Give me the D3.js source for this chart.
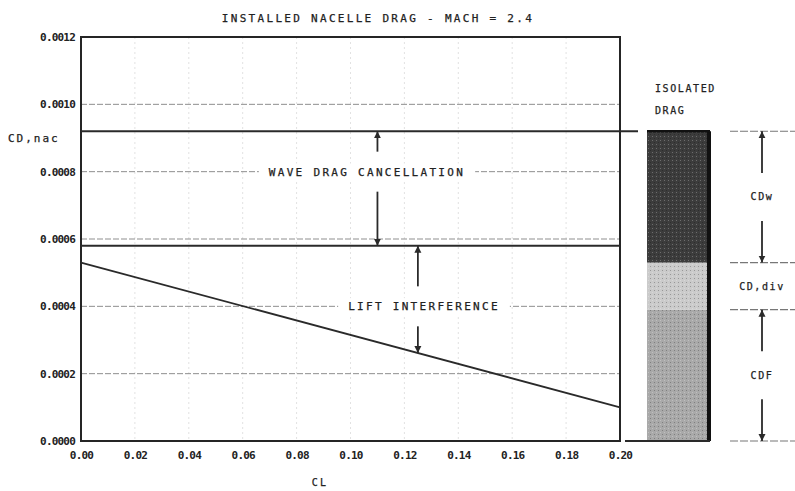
<!DOCTYPE html>
<html>
<head>
<meta charset="utf-8">
<script src="https://cdn.jsdelivr.net/npm/d3@7"></script>
<style>
  body { margin: 0; background: #fff; }
  text { font-family: "DejaVu Sans Mono", monospace; fill: #222; }
  .plot { font-size: 11px; letter-spacing: 2.3px; stroke: #222; stroke-width: 0.25px; }
  .tick { font-size: 11px; font-weight: bold; letter-spacing: -0.8px; }
</style>
</head>
<body>
<svg id="chart" width="795" height="491"></svg>
<script>
var WIDTH = 795;
var HEIGHT = 491;

// data
var clTicks = [0, 0.02, 0.04, 0.06, 0.08, 0.10, 0.12, 0.14, 0.16, 0.18, 0.20];
var clTickLabels = ['0.00', '0.02', '0.04', '0.06', '0.08', '0.10', '0.12', '0.14', '0.16', '0.18', '0.20'];
var cdTicks = [0, 0.0002, 0.0004, 0.0006, 0.0008, 0.0010, 0.0012];
var cdTickLabels = ['0.0000', '0.0002', '0.0004', '0.0006', '0.0008', '0.0010', '0.0012'];

var liftCL = [0, 0.20];
var liftCD = [0.00053, 0.00010];
var isolatedLevel = 0.00092;
var cancelledLevel = 0.00058;

var barNames = ['CDF', 'CD,div', 'CDw'];
var barValues = [0.00039, 0.00014, 0.00039];
var barColors = ['#a9a9a9', '#cbcbcb', '#3c3c3c'];

var waveArrowCL = 0.11;
var liftArrowCL = 0.125;
var waveLabel = 'WAVE DRAG CANCELLATION';
var liftLabel = 'LIFT INTERFERENCE';
var waveLabelCD = 0.0008;
var liftLabelCD = 0.0004;

var svg = d3.select('#chart');

var xScale = d3.scaleLinear().domain([0, 0.20]).range([81, 620]);
var yScale = d3.scaleLinear().domain([0, 0.0012]).range([441, 37]);
var barScale = d3.scaleBand().domain(['ISOLATED DRAG']).range([647, 710]);

// faint vertical grid
svg.append('g').selectAll('line').data(clTicks.slice(1, -1)).enter()
    .append('line')
    .attr('x1', function(d){ return xScale(d); })
    .attr('x2', function(d){ return xScale(d); })
    .attr('y1', yScale(0.0012)).attr('y2', yScale(0))
    .attr('stroke', '#e2e2e2').attr('stroke-dasharray', '2,3');

// dashed horizontal grid
svg.append('g').selectAll('line').data(cdTicks.slice(1, -1)).enter()
    .append('line')
    .attr('x1', xScale(0)).attr('x2', xScale(0.20))
    .attr('y1', function(d){ return yScale(d); })
    .attr('y2', function(d){ return yScale(d); })
    .attr('stroke', '#8f8f8f').attr('stroke-width', 1)
    .attr('stroke-dasharray', '6,2');

// axes
var leftAxis = d3.axisLeft(yScale).tickValues(cdTicks)
    .tickFormat(function(d, i){ return cdTickLabels[i]; }).tickSize(0).tickPadding(6);
var bottomAxis = d3.axisBottom(xScale).tickValues(clTicks)
    .tickFormat(function(d, i){ return clTickLabels[i]; }).tickSize(0).tickPadding(10);

svg.append('g').attr('transform', 'translate(' + xScale(0) + ',0)').call(leftAxis)
    .call(function(g){ g.select('.domain').remove(); })
    .selectAll('text').attr('class', 'tick');
svg.append('g').attr('transform', 'translate(0,' + yScale(0) + ')').call(bottomAxis)
    .call(function(g){ g.select('.domain').remove(); })
    .selectAll('text').attr('class', 'tick');

// frame
svg.append('rect')
    .attr('x', xScale(0)).attr('y', yScale(0.0012))
    .attr('width', xScale(0.20) - xScale(0))
    .attr('height', yScale(0) - yScale(0.0012))
    .attr('fill', 'none').attr('stroke', '#252525').attr('stroke-width', 2);

// labels on gridlines with white backing
function gridLabel(txt, cx, cd) {
    var t = svg.append('text').attr('class', 'plot')
        .attr('x', cx).attr('y', yScale(cd)).attr('dy', '0.35em')
        .attr('text-anchor', 'middle').text(txt);
    var bb = t.node().getBBox();
    svg.insert('rect', function(){ return t.node(); })
        .attr('x', bb.x - 10).attr('y', bb.y - 2)
        .attr('width', bb.width + 20).attr('height', bb.height + 4)
        .attr('fill', '#fff');
}
gridLabel(waveLabel, 367, waveLabelCD);
gridLabel(liftLabel, 424, liftLabelCD);

// level lines
svg.append('line')
    .attr('x1', xScale(0)).attr('x2', 638)
    .attr('y1', yScale(isolatedLevel)).attr('y2', yScale(isolatedLevel))
    .attr('stroke', '#2a2a2a').attr('stroke-width', 1.8);
svg.append('line')
    .attr('x1', xScale(0)).attr('x2', xScale(0.20))
    .attr('y1', yScale(cancelledLevel)).attr('y2', yScale(cancelledLevel))
    .attr('stroke', '#2a2a2a').attr('stroke-width', 1.8);

// lift line
var liftData = liftCL.map(function(c, i){ return [c, liftCD[i]]; });
svg.append('path').datum(liftData)
    .attr('d', d3.line().x(function(d){ return xScale(d[0]); }).y(function(d){ return yScale(d[1]); }))
    .attr('fill', 'none').attr('stroke', '#2a2a2a').attr('stroke-width', 1.8);

// arrows
var defs = svg.append('defs');
defs.append('marker').attr('id', 'head').attr('viewBox', '0 0 10 10')
    .attr('refX', 10).attr('refY', 5).attr('markerWidth', 7).attr('markerHeight', 9)
    .attr('markerUnits', 'userSpaceOnUse').attr('orient', 'auto')
    .append('path').attr('d', 'M0,0 L10,5 L0,10 Z').attr('fill', '#2a2a2a');

function arrow(x, fromY, toY) {
    svg.append('line')
        .attr('x1', x).attr('x2', x).attr('y1', fromY).attr('y2', toY)
        .attr('stroke', '#2a2a2a').attr('stroke-width', 1.8)
        .attr('marker-end', 'url(#head)');
}
var liftAt = d3.scaleLinear().domain(liftCL).range(liftCD);
var gap = 20;
arrow(xScale(waveArrowCL), yScale(waveLabelCD) - gap, yScale(isolatedLevel));
arrow(xScale(waveArrowCL), yScale(waveLabelCD) + gap, yScale(cancelledLevel));
arrow(xScale(liftArrowCL), yScale(liftLabelCD) - gap, yScale(cancelledLevel));
arrow(xScale(liftArrowCL), yScale(liftLabelCD) + gap, yScale(liftAt(liftArrowCL)));

// titles
svg.append('text').attr('class', 'plot').attr('x', 378).attr('y', 22)
    .attr('text-anchor', 'middle').text('INSTALLED NACELLE DRAG - MACH = 2.4');
svg.append('text').attr('class', 'plot').attr('x', 8).attr('y', 142)
    .style('letter-spacing', '2px').text('CD,nac');
svg.append('text').attr('class', 'plot').attr('x', 320).attr('y', 486)
    .attr('text-anchor', 'middle').style('font-size', '10px').text('CL');

// isolated drag bar
var stackData = [];
var acc = 0;
barValues.forEach(function(v, i){
    stackData.push({ name: barNames[i], y0: acc, y1: acc + v, color: barColors[i] });
    acc += v;
});
var bx = barScale('ISOLATED DRAG');
var bw = barScale.bandwidth();

var pat = defs.append('pattern').attr('id', 'grain').attr('width', 4).attr('height', 4)
    .attr('patternUnits', 'userSpaceOnUse');
pat.append('rect').attr('x', 0).attr('y', 0).attr('width', 1).attr('height', 1).attr('fill', '#fff').attr('opacity', 0.25);
pat.append('rect').attr('x', 2).attr('y', 2).attr('width', 1).attr('height', 1).attr('fill', '#000').attr('opacity', 0.25);

svg.append('g').selectAll('rect').data(stackData).enter()
    .append('rect')
    .attr('x', bx).attr('width', bw)
    .attr('y', function(d){ return yScale(d.y1); })
    .attr('height', function(d){ return yScale(d.y0) - yScale(d.y1); })
    .attr('fill', function(d){ return d.color; });
svg.append('rect')
    .attr('x', bx).attr('width', bw)
    .attr('y', yScale(acc)).attr('height', yScale(0) - yScale(acc))
    .attr('fill', 'url(#grain)');
svg.append('line').attr('x1', bx + bw - 1).attr('x2', bx + bw - 1)
    .attr('y1', yScale(acc)).attr('y2', yScale(0))
    .attr('stroke', '#111').attr('stroke-width', 4);
svg.append('line').attr('x1', bx).attr('x2', bx + bw)
    .attr('y1', yScale(acc)).attr('y2', yScale(acc))
    .attr('stroke', '#111').attr('stroke-width', 2.5);
svg.append('line').attr('x1', 625).attr('x2', bx + bw)
    .attr('y1', yScale(0)).attr('y2', yScale(0))
    .attr('stroke', '#2a2a2a').attr('stroke-width', 1.8);

svg.append('text').attr('class', 'plot').attr('x', 655).attr('y', 92)
    .style('font-size', '10px').style('letter-spacing', '1.6px').text('ISOLATED');
svg.append('text').attr('class', 'plot').attr('x', 655).attr('y', 114)
    .style('font-size', '10px').style('letter-spacing', '1.6px').text('DRAG');

// dimension lines on the right
var levels = [0].concat(stackData.map(function(d){ return d.y1; }));
svg.append('g').selectAll('line').data(levels).enter()
    .append('line')
    .attr('x1', 730).attr('x2', 795)
    .attr('y1', function(d){ return yScale(d); })
    .attr('y2', function(d){ return yScale(d); })
    .attr('stroke', '#777').attr('stroke-width', 1.2).attr('stroke-dasharray', '8,2');

var dimX = 762;
stackData.forEach(function(d){
    var mid = (yScale(d.y0) + yScale(d.y1)) / 2;
    svg.append('text').attr('class', 'plot').attr('x', dimX).attr('y', mid).attr('dy', '0.35em')
        .attr('text-anchor', 'middle').style('font-size', '10px').style('letter-spacing', '1.6px')
        .text(d.name);
    if (yScale(d.y0) - yScale(d.y1) > 80) {
        arrow(dimX, mid - 24, yScale(d.y1));
        arrow(dimX, mid + 24, yScale(d.y0));
    }
});
</script>
</body>
</html>
